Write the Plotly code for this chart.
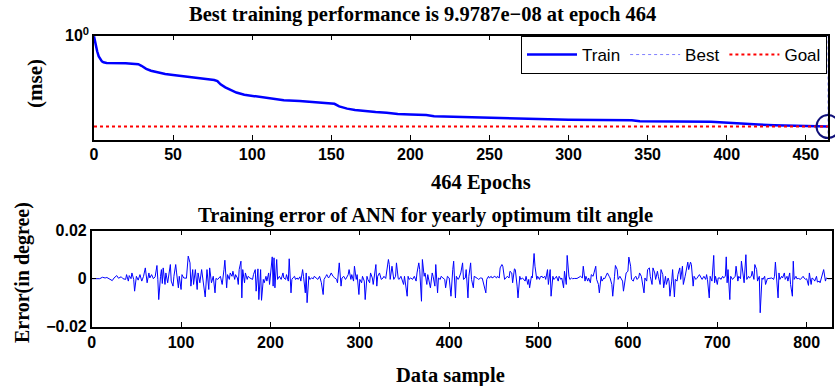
import plotly.graph_objects as go

# ---------------- data: training performance (top) ----------------
epochs = [0, 1, 2, 3, 4, 5, 6, 8, 20, 22, 28, 30, 33, 36, 40, 45, 50, 56, 60, 66,
          72, 76, 78, 80, 83, 87, 90, 95, 100, 108, 115, 120, 130, 138, 141, 150,
          152, 155, 160, 165, 172, 178, 185, 192, 200, 210, 215, 230, 240, 257,
          275, 292, 300, 340, 345, 390, 400, 412, 420, 430, 440, 446, 464]
train_log_mse = [-0.05, -0.7, -1.2, -1.6, -1.85, -1.98, -2.05, -2.1, -2.12, -2.15,
                 -2.2, -2.32, -2.55, -2.7, -2.82, -2.95, -3.03, -3.12, -3.17, -3.27,
                 -3.35, -3.42, -3.5, -3.75, -3.98, -4.2, -4.38, -4.55, -4.64, -4.8,
                 -4.92, -4.98, -5.04, -5.1, -5.17, -5.18, -5.25, -5.45, -5.62, -5.72,
                 -5.82, -5.88, -5.93, -6.03, -6.08, -6.12, -6.2, -6.25, -6.3, -6.36,
                 -6.4, -6.46, -6.48, -6.52, -6.6, -6.64, -6.72, -6.8, -6.85, -6.9,
                 -6.94, -6.98, -7.0009]
best_epoch = 464
best_mse = 9.9787e-08
goal_mse = 1e-7
top_xticks = [0, 50, 100, 150, 200, 250, 300, 350, 400, 450]

# ---------------- data: training error (bottom), value in 1e-3 degree ----------------
err_sample = [
    0, 9, 12, 15, 17, 20, 23, 25, 28, 30, 33, 35, 38, 39, 41, 42, 44, 45, 47, 48,
    50, 52, 54, 56, 58, 60, 61, 62, 64, 65, 67, 69, 71, 73, 74, 75, 77, 78, 79, 80,
    82, 83, 85, 86, 88, 89, 91, 92, 94, 95, 97, 98, 100, 101, 103, 106, 108, 110, 111, 113,
    114, 116, 118, 119, 121, 123, 125, 127, 129, 131, 132, 134, 136,
    138, 139, 141, 144, 146, 148, 149, 151, 152, 154, 155, 157, 158, 160, 161, 163, 164, 165,
    167, 168, 169, 171, 172, 174, 175, 177, 178, 180, 181, 183, 184, 186, 187, 189, 190, 192,
    193, 195, 196, 198, 199, 201, 202, 203, 204, 205, 207, 208, 210, 211, 212, 214, 215, 217,
    218, 220, 221, 223, 224, 225, 227, 228, 230, 231, 233, 234, 236, 237, 239, 240, 241, 243,
    244, 246, 248, 249, 251, 253, 255, 257, 259, 260, 262, 263, 265, 266, 268, 270, 272, 274,
    275, 277, 279, 280, 282, 284, 285, 287, 288, 290, 291, 293, 294, 296, 297, 299, 300, 302,
    303, 305, 306, 308, 309, 311, 312, 314, 315, 317, 318, 319, 320, 322, 324, 326, 327, 329,
    332, 333, 334, 336, 337, 338, 340, 341, 343, 344, 346, 347, 349, 350, 352, 353, 354, 355,
    357, 359, 361, 363, 364, 366, 367, 369, 370, 372, 373, 375, 376, 378, 379, 381, 382, 384,
    385, 387, 388, 390, 391, 393, 395, 396, 398, 400, 402, 404, 405, 407, 408, 410, 411,
    413, 415, 416, 418, 419, 421, 422, 424, 425, 427, 428, 430, 432, 433, 435, 437, 439, 441,
    442, 444, 445, 447, 448, 450, 451, 453, 454, 456, 457, 459, 460, 462, 463, 465, 467, 468,
    470, 471, 473, 474, 476, 477, 479, 480, 482, 483, 485, 486, 488, 489, 490, 492, 493, 495,
    496, 498, 499, 501, 502, 504, 505, 507, 508, 510, 511, 513, 514, 516, 517, 519, 520, 522,
    523, 525, 526, 528, 529, 531, 532, 534, 535, 537, 538, 540, 543, 547, 549,
    550, 552, 553, 555, 556, 558, 559, 561, 562, 564, 565, 567, 568, 570, 571, 573, 574, 576,
    577, 579, 580, 582, 583, 585, 586, 588, 589, 591, 592, 594, 595, 597, 598, 600, 601, 603,
    604, 606, 607, 609, 610, 612, 613, 615, 616, 618, 619, 621, 622, 624, 625, 627, 628, 630,
    631, 633, 634, 636, 637, 639, 640, 642, 643, 645, 646, 647, 649, 650, 652, 653, 655, 656,
    658, 659, 661, 662, 664, 665, 667, 668, 670, 671, 673, 674, 676, 677, 679, 680, 682, 683,
    685, 687, 688, 689, 691, 692, 694, 696, 697, 698, 700, 701, 703, 704, 706, 707, 709, 710,
    711, 712, 714, 715, 717, 718, 720, 721, 723, 724, 726, 727, 729, 730, 732, 733, 735, 736,
    738, 739, 741, 742, 744, 745, 747, 748, 750, 751, 753, 754, 756, 757, 759, 761, 763, 764,
    765, 766, 768, 769, 770, 772, 773, 775, 776, 778, 779, 781, 782, 784, 785, 786, 788, 789,
    791, 793, 794, 796, 797, 799, 800, 802, 803, 805, 806, 808, 809, 811, 812, 814, 815, 817,
    818, 819, 821, 822, 824, 828]
err_milli = [
    0, 0, 0.6, 0.3, 0.5, 0, -0.8, 0.3, 1.3, 0.2, 0.8, 0, -0.3, 1.7, -1, 1.3, 0, 2.4, -0.3, -5.2,
    1, -0.6, 1.7, -1, 1, 4.5, -0.3, -1.7, 2.4, 0.3, 1.7, 0, 0.8, 5.5, -0.3, -8.7, 1, 3.8, -2, 4.5,
    -2.4, 2.4, -1.7, 0.3, 5.9, -1, -3.1, 1, 5.9, 2.4, -3.8, 1, -4.5, 1.7, 0.3, 0.2, 9.4, 6.6, -3.1, 3.8,
    -2.4, 3.8, -4.5, 2.4, -1.7, 3.8, -2.4, -7.6, 3.8, -4.5, 4.5, -1.7, 1,
    -5.9, 0.1, -0.3, 1, -2.4, 3.8, 7.7, -3.8, 1.7, -0.3, 2.4, 1, 3.1, -0.3, 1.7, 0.3, -2.4, 3.8,
    7.3, -8, 3.8, -1.7, 2.4, -0.3, 1, 0.3, 0, -0.3, 1.7, 3.8, -5.2, 4.1, -8.7, 3.8, -9, -0.3,
    -1.7, 1, -1, 2.4, -2.4, 4.5, 9.1, -3.1, 8.7, -3.8, 8, -0.3, 1, 0.3, -0.3, 2.4, 0.3, -0.3,
    1.7, -1, 8.3, -5.9, -0.3, 0.3, 1, -0.3, 0.3, -0.3, 0.8, -1, 3.8, 1, -5.9, 2.4, -10, 1,
    -0.3, 0.3, 0, 1, 0.2, -0.3, 1, -1.7, -6.6, -0.3, 1, 1.7, 0.3, 0.8, 2.4, 1, 0.3, -0.3,
    -1.7, 6.6, -3.1, 0.3, 1, -0.3, 0.3, 1.7, 3.8, -0.3, 1.7, -1, 5.2, -0.3, 1.7, -6.6, -0.3, -1.7,
    1, -1, -8.7, 1, -0.3, -1.7, 2.4, 0.3, -2.4, 4.5, 5.9, -3.1, 1, 2.4, -0.3, 0.3, 1, 0.1,
    8, 5.9, -0.3, 5.2, 1, -0.3, 1, 6.6, 0, -0.3, 1, -0.3, -2.4, 1, -5.9, -7.3, 1, -0.3,
    0.3, -0.3, 1, -1, 2.4, 6.6, 3.8, -9.4, 8, 1, 2.4, -2.4, 1.7, -1.7, -3.8, 2.4, 1, -3.1,
    5.9, -5.9, 0.3, -0.3, 1, 0.3, -0.3, -3.8, 1, 0.3, -7.3, 3.8, 7.3, -8, 1, -0.3, 0.3,
    2.4, 6.6, -0.3, 0.3, 3.8, -8, 1, 6.6, -0.3, -3.8, 1, 0.3, 0, -0.3, 0.3, 0.2, -3.1, -5.9,
    -0.3, 1, 0.3, 1, 0.3, 0.8, 1, 0.3, 1, 0.3, 4.5, 5.9, 5.2, -0.3, 0.3, 1, 0.3, 3.1,
    2.4, -1.7, 4.1, 3.8, -3.1, -8, 1, -0.3, 0.3, -0.3, -1, 1, -2.4, -0.3, -3.8, 1, 0.3, 10.5,
    5.2, -0.3, 1, -0.3, 0.8, 1, 0.3, 1, -0.3, 3.8, -2.4, 3.8, -7.3, 1, -0.3, 0.3, 1, -1,
    1, -0.3, 0.3, -3.8, 3.1, -2.4, 9.7, 1, -0.3, 0.3, 0, 0.1, 0.1, 1, 0.3,
    5.2, -1, 1, -1, 0.3, -1.7, 1.7, 1, 2.4, 5.2, -0.3, -2.4, -5.9, 1, -1, 0.3, 0, 1.7,
    2.4, 1, 0.3, -2.4, -7.3, 1, 5.5, 3.8, -0.3, 1, 0.3, -1, -5.2, 0.3, 2.4, 3.1, 9, 5.2,
    -0.3, -1, 0.3, 1, -0.3, 0.3, 2.4, 1, -1.7, -5.9, 0.3, -1, 3.8, 4.5, 1, -2.4, 4.5, 2.4,
    -0.3, 3.1, 1, -2.4, 3.8, 1.7, -3.8, 1, -2.4, 0.3, -1, -7.3, -1, 3.8, -7.6, -0.3, -1, 1.7,
    4.5, -0.3, 5.2, -2.4, 1, 3.1, 6.9, 3.8, 6.9, 5.9, -3.1, 1, -0.3, 0.1, 1, 1.7, 0.3, -0.3,
    1, -0.3, 1.7, -0.3, -8, 1, -1, 9.7, -1.7, 1, -2.4, 0.3, 0.3, -0.3, 1, 0.3, 1, 9.1,
    -1.7, 3.8, -8.7, 1, -0.3, 0.3, 1, 5.2, -1, 1, 0, 7.3, -0.3, -1.7, 10, -0.3, 1, 0.3,
    1, 3.1, -0.3, 5.9, 3.8, -1, 1, -14.2, 0.3, -0.3, 1, -2.4, 0, 0, 0, 0.3, -0.3, 1,
    6.9, 0.3, -8, 2.4, -0.3, 1, 0.3, 2.4, -0.3, 1, -1, 2.4, -2.4, -7.3, 7.3, -0.3, 1, 0,
    0.1, -0.3, 0.1, 1, 0.3, -0.3, 0, -2.8, 2.4, -2.4, 0.3, -0.3, -1, 1, -1.4, -1, -1.7, 1,
    1.7, 3.8, -1, 0.3, 0, 0]
err_value = [v / 1000.0 for v in err_milli]
bottom_xticks = [0, 100, 200, 300, 400, 500, 600, 700, 800]
bottom_yticks = [-0.02, 0, 0.02]
bottom_yticktext = ["\u22120.02", "0", "0.02"]

W, H = 835, 386

def px(x):
    return x / W

def py(y):
    return 1 - y / H

fig = go.Figure()

fig.add_trace(go.Scatter(
    x=epochs, y=[10 ** v for v in train_log_mse], mode="lines", name="Train",
    line=dict(color="#0000ff", width=2.5), xaxis="x", yaxis="y"))
fig.add_trace(go.Scatter(
    x=[best_epoch, best_epoch], y=[1e-8, 1], mode="lines", name="Best",
    line=dict(color="#8080ff", width=1, dash="dot"), xaxis="x", yaxis="y"))
fig.add_trace(go.Scatter(
    x=[0, best_epoch], y=[goal_mse, goal_mse], mode="lines", name="Goal",
    line=dict(color="#ff0000", width=2, dash="dot"), xaxis="x", yaxis="y"))
fig.add_trace(go.Scatter(
    x=[best_epoch], y=[best_mse], mode="markers", showlegend=False,
    marker=dict(symbol="circle-open", size=23, color="#10107a", line=dict(width=2)),
    cliponaxis=False, xaxis="x", yaxis="y"))

fig.add_trace(go.Scatter(
    x=err_sample, y=err_value, mode="lines", showlegend=False,
    line=dict(color="#0000ff", width=1), xaxis="x2", yaxis="y2"))

tickfont = dict(family="Liberation Sans", size=16, color="black", weight="bold")
axis_common = dict(showline=True, linecolor="black", linewidth=1.5, mirror="ticks",
                   ticks="inside", ticklen=5, tickwidth=1, tickcolor="black",
                   showgrid=False, zeroline=False, tickfont=tickfont,
                   automargin=False)

fig.update_layout(
    width=W, height=H, margin=dict(l=0, r=0, t=0, b=0, autoexpand=False),
    paper_bgcolor="white", plot_bgcolor="white",
    xaxis=dict(domain=[px(94), px(828)], range=[0, 464], tickvals=top_xticks,
               anchor="y", **axis_common),
    yaxis=dict(domain=[py(139.5), py(35.7)], type="log", range=[-8, 0],
               tickvals=[1], ticktext=["10<sup>0</sup>"], anchor="x", **axis_common),
    xaxis2=dict(domain=[px(91.7), px(831.7)], range=[0, 828], tickvals=bottom_xticks,
                anchor="y2", **axis_common),
    yaxis2=dict(domain=[py(326.7), py(230.7)], range=[-0.02, 0.02],
                tickvals=bottom_yticks, ticktext=bottom_yticktext, anchor="x2",
                **axis_common),
    legend=dict(orientation="h", x=px(827), xanchor="right", y=py(36), yanchor="top",
                bgcolor="white", bordercolor="black", borderwidth=1,
                font=dict(family="Liberation Sans", size=17, color="black"),
                itemwidth=50),
    showlegend=True,
)

serif = "Liberation Serif"
def label(text, x, y, size, angle=0):
    fig.add_annotation(text="<b>" + text + "</b>", x=px(x), y=py(y), xref="paper",
                       yref="paper", showarrow=False, textangle=angle,
                       font=dict(family=serif, size=size, color="black"),
                       xanchor="center", yanchor="middle")

label("Best training performance is 9.9787e\u221208 at epoch 464", 423, 14, 20.5)
label("464 Epochs", 481, 182, 20.5)
label("(mse)", 35, 84, 21, -90)
label("Training error of ANN for yearly optimum tilt angle", 425, 215, 20.5)
label("Data sample", 450, 375, 20.5)
label("Error(in degree)", 22, 273, 20, -90)

fig.write_html("out.html", config={"displayModeBar": False},
               post_script="document.body.style.margin='0px';")
